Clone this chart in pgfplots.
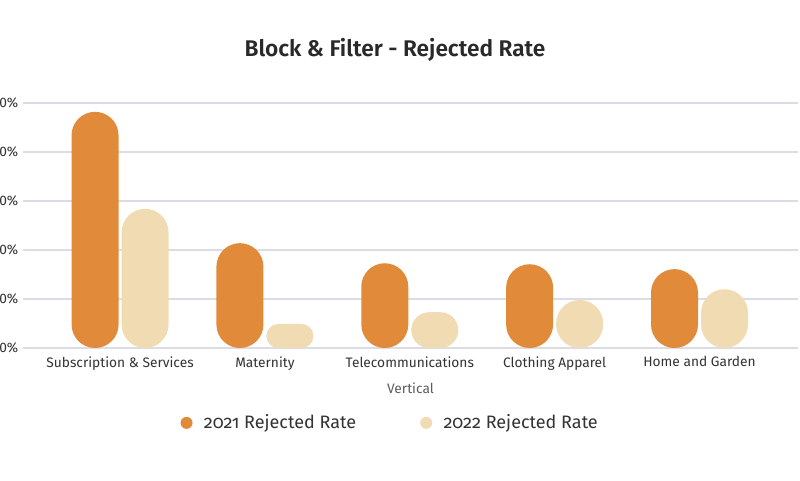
\documentclass[border=0pt]{standalone}
\usepackage{fontspec}
\setmainfont{Fira Sans}[Numbers=OldStyle]
\newfontfamily\titlefont{Fira Sans}[UprightFont=* SemiBold]
\usepackage{pgfplots}
\pgfplotsset{compat=1.18}

\definecolor{c2021}{HTML}{E08A3A}
\definecolor{c2022}{HTML}{F0DBB2}
\definecolor{gridc}{HTML}{DCDCE6}
\definecolor{txt}{HTML}{333333}

\begin{document}
\begin{tikzpicture}[x=0.75pt,y=0.75pt]
\path[use as bounding box] (0,0) rectangle (800,480);
\begin{axis}[
  at={(23*0.75pt,132*0.75pt)}, anchor=south west,
  scale only axis,
  width=775*0.75pt, height=245*0.75pt,
  ybar, bar width=47*0.75pt,
  xmin=-0.67, xmax=4.68,
  ymin=0, ymax=50,
  xtick={0,1,2,3,4},
  xticklabels={Subscription \& Services, Maternity, Telecommunications, Clothing Apparel, Home and Garden},
  ytick={0,10,20,30,40,50},
  yticklabel={\pgfmathprintnumber{\tick}\%},
  /pgf/number format/assume math mode=true,
  axis line style={draw=none},
  tick style={draw=none},
  ymajorgrids, grid style={gridc, line width=0.9pt},
  ticklabel style={font=\fontsize{10.3}{12}\selectfont\addfontfeatures{Numbers=Lining}, text=txt},
  xticklabel style={yshift=1.5pt},
  xlabel={Vertical},
  xlabel style={font=\fontsize{10.3}{12}\selectfont, text=txt!80, yshift=-3pt},
  legend style={at={(0.5,-0.25)}, xshift=-15pt, anchor=north, draw=none, legend columns=2,
    font=\fontsize{13.5}{16}\selectfont, text=txt,
    /tikz/every even column/.append style={column sep=46pt}},
  legend image code/.code={\fill[#1] (0pt,0pt) circle (4.5pt); \path (-4.5pt,0pt) (11pt,0pt);},
]
% 2021 bars
\addplot[fill=c2021, draw=none, bar shift=-25*0.75pt, rounded corners=23.5*0.75pt]
  coordinates {(0,48.2) (1,21.4) (2,17.3) (3,17.1) (4,16.1)};
% 2022 bars (short ones get a smaller radius so they stay pill-shaped)
\addplot[fill=c2022, draw=none, bar shift=25*0.75pt, rounded corners=23.5*0.75pt]
  coordinates {(0,28.4) (3,9.8) (4,12.0)};
\addplot[fill=c2022, draw=none, bar shift=25*0.75pt, rounded corners=11.9*0.75pt, forget plot]
  coordinates {(1,4.9)};
\addplot[fill=c2022, draw=none, bar shift=25*0.75pt, rounded corners=17.8*0.75pt, forget plot]
  coordinates {(2,7.3)};
\legend{2021 Rejected Rate, 2022 Rejected Rate}
\end{axis}
\node[font=\titlefont\fontsize{17}{20}\selectfont, text=txt!80!black] at (395,430) {Block \& Filter - Rejected Rate};
\end{tikzpicture}
\end{document}
